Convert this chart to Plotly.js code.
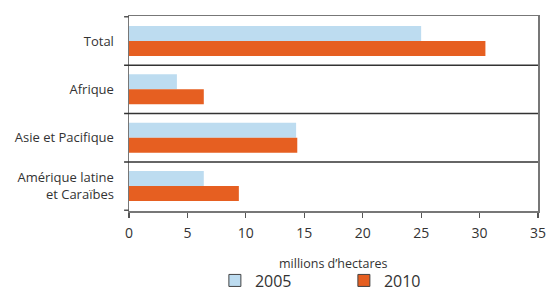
<!DOCTYPE html>
<html><head><meta charset="utf-8">
<script src="https://cdn.plot.ly/plotly-3.0.1.min.js"></script>
<style>html,body{margin:0;padding:0;background:#fff}#chart{width:547px;height:291px}</style>
</head><body><div id="chart"></div>
<script>
var categories = ["Total", "Afrique", "Asie et Pacifique", "Amérique latine<br>et Caraïbes"];
var seriesNames = ["2005", "2010"];
var values2005 = [25, 4.1, 14.3, 6.4];
var values2010 = [30.5, 6.4, 14.4, 9.4];
var xTicks = [0, 5, 10, 15, 20, 25, 30, 35];
var xAxisTitle = "millions d’hectares";
var colors = ["#bddcf0", "#e65f21"];

var traces = [
  {type: "bar", orientation: "h", name: seriesNames[0], y: categories, x: values2005,
   marker: {color: colors[0], line: {width: 0}}, showlegend: false},
  {type: "bar", orientation: "h", name: seriesNames[1], y: categories, x: values2010,
   marker: {color: colors[1], line: {width: 0}}, showlegend: false},
  {type: "bar", orientation: "h", name: seriesNames[0], y: [null], x: [null],
   xaxis: "x2", yaxis: "y2", marker: {color: colors[0], line: {width: 1, color: "#444"}}},
  {type: "bar", orientation: "h", name: seriesNames[1], y: [null], x: [null],
   xaxis: "x2", yaxis: "y2", marker: {color: colors[1], line: {width: 1, color: "#444"}}}
];

var shapes = [];
[0.5, 1.5, 2.5].forEach(function (b) {
  shapes.push({type: "line", xref: "paper", yref: "y", x0: -0.012, x1: 1, y0: b, y1: b,
    line: {color: "#333", width: 1.5}});
});
[-0.5, 3.5].forEach(function (b) {
  shapes.push({type: "line", xref: "paper", yref: "y", x0: -0.012, x1: 0, y0: b, y1: b,
    line: {color: "#555", width: 1.5}});
});

var layout = {
  width: 547, height: 291,
  margin: {l: 129, r: 9, t: 16, b: 80},
  paper_bgcolor: "#fff", plot_bgcolor: "#fff",
  font: {family: "Open Sans, sans-serif", size: 13, color: "#333"},
  barmode: "group", bargap: 0.38, bargroupgap: 0,
  showlegend: true,
  legend: {orientation: "h", x: 0.21, xanchor: "left", xref: "paper",
    y: 0.036, yanchor: "middle", yref: "container",
    font: {size: 16, color: "#333"}, entrywidth: 84, entrywidthmode: "pixels",
    itemwidth: 30, itemclick: false},
  xaxis: {range: [0, 35], tickvals: xTicks, showgrid: false, zeroline: false,
    automargin: false,
    showline: true, mirror: true, linecolor: "#777", linewidth: 1.5,
    ticks: "outside", ticklen: 5, tickcolor: "#555", tickwidth: 1.2,
    ticklabelstandoff: 4,
    tickfont: {size: 14, color: "#333"}},
  yaxis: {autorange: "reversed", showgrid: false, zeroline: false, automargin: false,
    showline: true, mirror: true, linecolor: "#777", linewidth: 1.5,
    ticks: "", ticklabelstandoff: 11, tickfont: {size: 13, color: "#333"}},
  xaxis2: {overlaying: "x", visible: false, range: [0, 1]},
  yaxis2: {overlaying: "y", visible: false, range: [0, 1]},
  annotations: [{text: xAxisTitle, xref: "paper", yref: "paper", x: 0.5, y: -0.267,
    xanchor: "center", yanchor: "middle", showarrow: false,
    font: {size: 12.5, color: "#333"}}],
  shapes: shapes
};

Plotly.newPlot("chart", traces, layout, {displayModeBar: false, staticPlot: true});
</script></body></html>
